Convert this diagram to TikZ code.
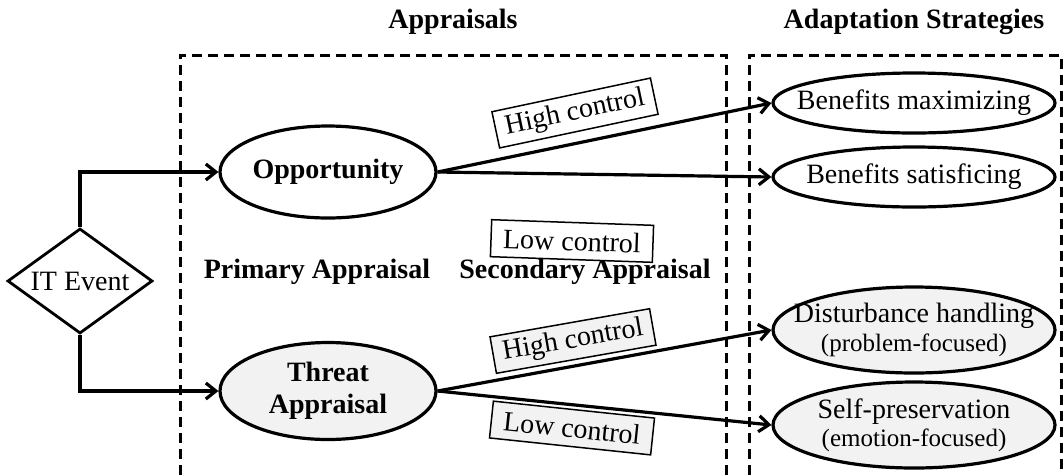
\documentclass[tikz,border=0pt]{standalone}
\usepackage{fontspec}
\setmainfont{Liberation Serif}
\usetikzlibrary{shapes.geometric,arrows.meta}
\definecolor{shade}{HTML}{F2F2F2}
\begin{document}
\begin{tikzpicture}[x=1pt,y=-1pt,
  base/.style={font=\fontsize{28}{29}\selectfont},
  ell/.style={draw, ellipse, line width=3.2pt, inner xsep=-30pt, inner ysep=0pt, align=center, base},
  lbl/.style={draw, line width=1.5pt, minimum width=162pt, minimum height=37pt, inner sep=0pt, base},
  conn/.style={line width=3.2pt, -{Straight Barb[length=10pt,width=16pt]}},
  zone/.style={line width=3pt, dash pattern=on 10pt off 6pt},
  heading/.style={base, font=\fontsize{28}{28}\selectfont\bfseries}
]
\useasboundingbox (0,0) rectangle (1064,475);

% zones
\draw[zone] (180,475) -- (180,55) -- (726,55) -- (726,475);
\draw[zone] (749,475) -- (749,55) -- (1061,55) -- (1061,475);

% titles
\node[heading] (t1) at (453,22) {Appraisals};
\node[heading] (t2) at (914,22) {Adaptation Strategies};
\node[heading] (pa) at (317,272) {Primary Appraisal};
\node[heading] (sa) at (585,272) {Secondary Appraisal};

% event
\node[draw, diamond, line width=2.8pt, minimum width=145pt, minimum height=105pt, inner sep=0pt, aspect=1.4, base] (ev) at (80,281) {IT Event};

% appraisals
\node[ell, font=\fontsize{28}{32}\selectfont\bfseries, minimum width=216pt, minimum height=92pt] (opp) at (328,172) {Opportunity};
\node[ell, fill=shade, font=\fontsize{28}{32}\selectfont\bfseries, minimum width=216pt, minimum height=97pt] (thr) at (328,391) {Threat\\Appraisal};

% strategies
\node[ell, minimum width=282pt, minimum height=60pt] (bmax) at (914,103) {Benefits maximizing};
\node[ell, minimum width=282pt, minimum height=60pt] (bsat) at (914,177) {Benefits satisficing};
\node[ell, fill=shade, minimum width=282pt, minimum height=86pt] (dist) at (914,330) {Disturbance handling\\{\fontsize{25}{26}\selectfont (problem-focused)}};
\node[ell, fill=shade, minimum width=282pt, minimum height=86pt] (self) at (914,425) {Self-preservation\\[-1pt]{\fontsize{25}{26}\selectfont (emotion-focused)}};

% connectors
\draw[conn] (ev.north) |- (opp.west);
\draw[conn] (ev.south) |- (thr.west);
\draw[conn] (opp.east) -- (bmax.west);
\draw[conn] (opp.east) -- (bsat.west);
\draw[conn] (thr.east) -- (dist.west);
\draw[conn] (thr.east) -- (self.west);

% labels
\node[lbl, fill=white, rotate=12] (hc1) at (575,113) {High control};
\node[lbl, fill=white, rotate=-2] (lc1) at (572,241) {Low control};
\node[lbl, fill=shade, rotate=10] (hc2) at (573,341) {High control};
\node[lbl, fill=shade, rotate=-6] (lc2) at (572,428) {Low control};
\end{tikzpicture}
\end{document}
